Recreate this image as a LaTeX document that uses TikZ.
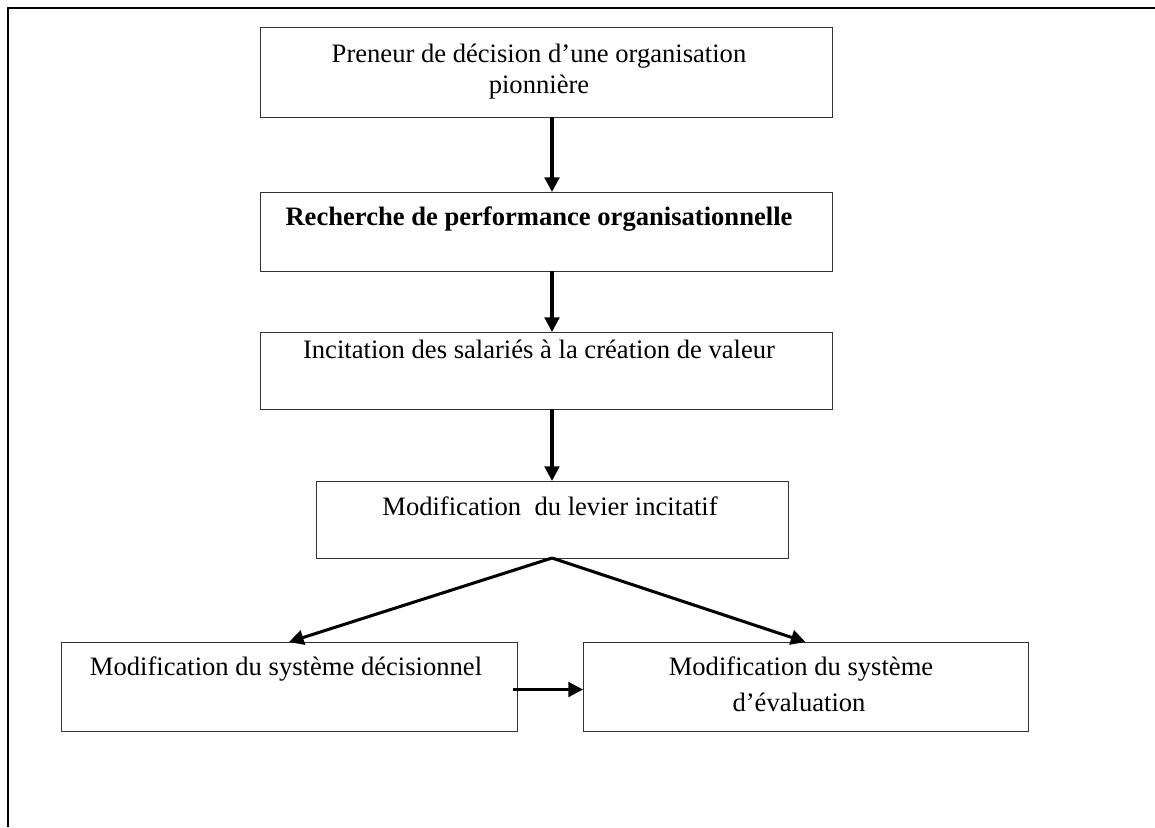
\documentclass[tikz,border=0pt]{standalone}
\usepackage{fontspec}
\setmainfont{Liberation Serif}
\usetikzlibrary{positioning,arrows.meta}

\tikzset{
  box/.style={draw=black!80,line width=0.8pt,rectangle,inner sep=0pt,outer sep=0pt},
  txt/.style={anchor=base,inner sep=0pt,font=\fontsize{22.7}{27}\selectfont},
  arr/.style={line width=2.6pt,-{Triangle[length=12.5pt,width=12.5pt]}}
}

\begin{document}
\begin{tikzpicture}[x=0.03cm,y=-0.03cm]
\useasboundingbox (0,0) rectangle (1155,827);
% frame
\draw[line width=1.8pt] (8,827) -- (8,8) -- (1155,8);

% boxes
\path (546,72) node[box,minimum width=572*0.03cm,minimum height=90*0.03cm] (preneur) {}
(546,231.5) node[box,minimum width=572*0.03cm,minimum height=79*0.03cm] (recherche) {}
(546,370.5) node[box,minimum width=572*0.03cm,minimum height=77*0.03cm] (incitation) {}
(552,519.5) node[box,minimum width=472*0.03cm,minimum height=77*0.03cm] (levier) {}
(289,686.5) node[box,minimum width=456*0.03cm,minimum height=89*0.03cm] (decision) {}
(805.5,686.5) node[box,minimum width=445*0.03cm,minimum height=89*0.03cm] (evaluation) {};

% texts
\path (539,62) node[txt] (t-preneur) {Preneur de décision d’une organisation}
(539,93) node[txt] (t-pionniere) {pionnière}
(539,225) node[txt,font=\fontsize{22.7}{27}\selectfont\bfseries] (t-recherche) {Recherche de performance organisationnelle}
(539,358) node[txt] (t-incitation) {Incitation des salariés à la création de valeur}
(550,515) node[txt] (t-levier) {Modification~ du levier incitatif}
(286,675) node[txt] (t-decision) {Modification du système décisionnel}
(801,675) node[txt] (t-evaluation) {Modification du système}
(799,711) node[txt] (t-evaluation2) {d’évaluation};

% arrows
\draw[arr] (preneur.south -| levier) -- (recherche.north -| levier);
\draw[arr] (recherche.south -| levier) -- (incitation.north -| levier);
\draw[arr] (incitation.south -| levier) -- (levier.north);
\draw[arr] (levier.south) -- (decision.north);
\draw[arr] (levier.south) -- (evaluation.north);
\draw[arr] ([xshift=-4*0.03cm,yshift=-3*0.03cm]decision.east) -- ([yshift=-3*0.03cm]evaluation.west);
\end{tikzpicture}
\end{document}
